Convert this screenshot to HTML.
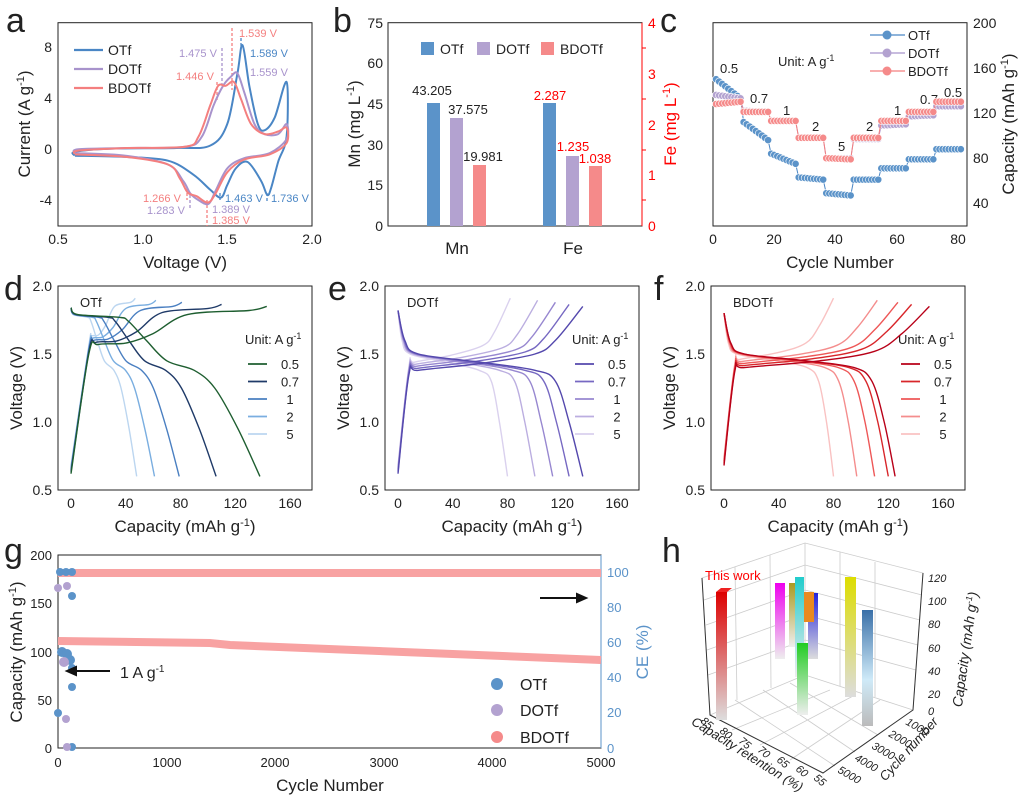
<!DOCTYPE html>
<html><head><meta charset="utf-8"><style>
body{margin:0;background:#fff}
svg{display:block;font-family:"Liberation Sans",Arial,sans-serif}
</style></head><body>
<svg id="s" width="1024" height="797" viewBox="0 0 1024 797" xmlns="http://www.w3.org/2000/svg">
<defs>
<linearGradient id="gr" x1="0" y1="0" x2="0" y2="1"><stop offset="0" stop-color="#d00"/><stop offset="1" stop-color="#ddd"/></linearGradient>
<linearGradient id="gm" x1="0" y1="0" x2="0" y2="1"><stop offset="0" stop-color="#e0e"/><stop offset="1" stop-color="#eee"/></linearGradient>
<linearGradient id="go" x1="0" y1="0" x2="0" y2="1"><stop offset="0" stop-color="#aa9a20"/><stop offset="1" stop-color="#eee"/></linearGradient>
<linearGradient id="gc" x1="0" y1="0" x2="0" y2="1"><stop offset="0" stop-color="#2cc"/><stop offset="1" stop-color="#eee"/></linearGradient>
<linearGradient id="gb" x1="0" y1="0" x2="0" y2="1"><stop offset="0" stop-color="#22d"/><stop offset="1" stop-color="#ddd"/></linearGradient>
<linearGradient id="gg" x1="0" y1="0" x2="0" y2="1"><stop offset="0" stop-color="#2c2"/><stop offset="1" stop-color="#eee"/></linearGradient>
<linearGradient id="gy" x1="0" y1="0" x2="0" y2="1"><stop offset="0" stop-color="#dd0"/><stop offset="1" stop-color="#ddd"/></linearGradient>
<linearGradient id="gs" x1="0" y1="0" x2="0" y2="1"><stop offset="0" stop-color="#3a70a8"/><stop offset="0.6" stop-color="#cfeaf8"/><stop offset="1" stop-color="#bbb"/></linearGradient>
</defs>
<g font-size="14" fill="#222">
<text x="6" y="32" font-size="34">a</text>
<text x="333" y="32" font-size="34">b</text>
<text x="660" y="32" font-size="34">c</text>
<text x="4" y="300" font-size="34">d</text>
<text x="328" y="300" font-size="34">e</text>
<text x="654" y="300" font-size="34">f</text>
<text x="4" y="562" font-size="34">g</text>
<text x="662" y="562" font-size="34">h</text>

<!-- a -->
<rect x="58" y="22.7" width="254" height="203.3" fill="none" stroke="#222"/>
<g text-anchor="end"><text x="52" y="52">8</text><text x="52" y="103">4</text><text x="52" y="154">0</text><text x="52" y="205">-4</text></g>
<g text-anchor="middle"><text x="58" y="244">0.5</text><text x="143" y="244">1.0</text><text x="227" y="244">1.5</text><text x="312" y="244">2.0</text>
<text x="185" y="268" font-size="17">Voltage (V)</text>
<text transform="translate(30,124) rotate(-90)" font-size="17">Current (A g<tspan font-size="11" dy="-6">-1</tspan><tspan dy="6">)</tspan></text></g>
<g stroke-width="2.2"><line x1="74" y1="50" x2="103" y2="50" stroke="#4a86c5"/><line x1="74" y1="69" x2="103" y2="69" stroke="#a893cc"/><line x1="74" y1="88" x2="103" y2="88" stroke="#f47f7f"/></g>
<text x="108" y="55">OTf</text><text x="108" y="74">DOTf</text><text x="108" y="93">BDOTf</text>
<g font-size="11"><text x="239" y="37" fill="#f47f7f">1.539 V</text><text x="179" y="57" fill="#a893cc">1.475 V</text><text x="250" y="57" fill="#4a86c5">1.589 V</text>
<text x="176" y="80" fill="#f47f7f">1.446 V</text><text x="250" y="76" fill="#a893cc">1.559 V</text>
<text x="143" y="202" fill="#f47f7f">1.266 V</text><text x="225" y="202" fill="#4a86c5">1.463 V</text><text x="271" y="202" fill="#4a86c5">1.736 V</text>
<text x="147" y="214" fill="#a893cc">1.283 V</text><text x="212" y="213" fill="#a893cc">1.389 V</text><text x="212" y="224" fill="#f47f7f">1.385 V</text></g>
<g stroke-dasharray="3,2" stroke-width="1.3" fill="none">
<line x1="232" y1="28" x2="232" y2="90" stroke="#f47f7f"/><line x1="222" y1="48" x2="222" y2="85" stroke="#a893cc"/><line x1="241" y1="38" x2="241" y2="48" stroke="#4a86c5"/><line x1="217" y1="82" x2="217" y2="100" stroke="#f47f7f"/>
<line x1="187" y1="188" x2="187" y2="200" stroke="#f47f7f"/><line x1="190" y1="195" x2="190" y2="210" stroke="#a893cc"/><line x1="207" y1="200" x2="207" y2="226" stroke="#f47f7f"/><line x1="220" y1="193" x2="220" y2="200" stroke="#4a86c5"/><line x1="267" y1="193" x2="267" y2="202" stroke="#4a86c5"/></g>
<g id="ga"></g>

<!-- b -->
<rect x="388" y="22.7" width="254" height="203.3" fill="none" stroke="#222"/>
<line x1="642" y1="22.7" x2="642" y2="226" stroke="#f00"/>
<g text-anchor="end"><text x="383" y="28">75</text><text x="383" y="68">60</text><text x="383" y="109">45</text><text x="383" y="150">30</text><text x="383" y="190">15</text><text x="383" y="231">0</text></g>
<g fill="#f00"><text x="648" y="28">4</text><text x="648" y="79">3</text><text x="648" y="130">2</text><text x="648" y="180">1</text><text x="648" y="231">0</text>
<text transform="translate(676,124) rotate(-90)" font-size="17" text-anchor="middle">Fe (mg L<tspan font-size="11" dy="-6">-1</tspan><tspan dy="6">)</tspan></text></g>
<g stroke="#f00"><line x1="642" y1="48" x2="646" y2="48"/><line x1="642" y1="99" x2="646" y2="99"/><line x1="642" y1="150" x2="646" y2="150"/><line x1="642" y1="200" x2="646" y2="200"/></g>
<text transform="translate(360,124) rotate(-90)" font-size="17" text-anchor="middle">Mn (mg L<tspan font-size="11" dy="-6">-1</tspan><tspan dy="6">)</tspan></text>
<g text-anchor="middle" font-size="17"><text x="457" y="254">Mn</text><text x="573" y="254">Fe</text></g>
<rect x="427" y="103" width="13" height="123" fill="#5b93c9"/><rect x="450" y="118" width="13" height="108" fill="#b3a2d0"/><rect x="473" y="165" width="13" height="61" fill="#f58a8a"/>
<rect x="543" y="103" width="13" height="123" fill="#5b93c9"/><rect x="566" y="156" width="13" height="70" fill="#b3a2d0"/><rect x="589" y="166" width="13" height="60" fill="#f58a8a"/>
<g text-anchor="middle" font-size="13"><text x="432" y="95">43.205</text><text x="468" y="114">37.575</text><text x="483" y="161">19.981</text>
<g fill="#f00"><text x="550" y="100">2.287</text><text x="573" y="151">1.235</text><text x="595" y="163">1.038</text></g></g>
<rect x="421" y="42" width="13" height="13" fill="#5b93c9"/><rect x="477" y="42" width="13" height="13" fill="#b3a2d0"/><rect x="541" y="42" width="13" height="13" fill="#f58a8a"/>
<text x="440" y="54">OTf</text><text x="496" y="54">DOTf</text><text x="560" y="54">BDOTf</text>

<!-- c -->
<rect x="713" y="22.7" width="254" height="203.3" fill="none" stroke="#222"/>
<g><text x="973" y="28">200</text><text x="973" y="73">160</text><text x="973" y="118">120</text><text x="973" y="163">80</text><text x="973" y="208">40</text></g>
<g text-anchor="middle"><text x="713" y="244">0</text><text x="774" y="244">20</text><text x="835" y="244">40</text><text x="897" y="244">60</text><text x="958" y="244">80</text>
<text x="840" y="268" font-size="17">Cycle Number</text>
<text transform="translate(1014,124) rotate(-90)" font-size="17">Capacity (mAh g<tspan font-size="11" dy="-6">-1</tspan><tspan dy="6">)</tspan></text></g>
<text x="778" y="66" font-size="13">Unit: A g<tspan font-size="9" dy="-5">-1</tspan></text>
<g font-size="13"><text x="720" y="73">0.5</text><text x="750" y="103">0.7</text><text x="783" y="115">1</text><text x="812" y="131">2</text><text x="838" y="151">5</text><text x="866" y="131">2</text><text x="894" y="115">1</text><text x="920" y="104">0.7</text><text x="944" y="97">0.5</text></g>
<g id="gc3"></g>
<g stroke-width="1.2"><line x1="870" y1="35" x2="905" y2="35" stroke="#4a86c5"/><line x1="870" y1="53" x2="905" y2="53" stroke="#a893cc"/><line x1="870" y1="71" x2="905" y2="71" stroke="#f47f7f"/></g>
<circle cx="887" cy="35" r="4.5" fill="#5b93c9"/><circle cx="887" cy="53" r="4.5" fill="#b3a2d0"/><circle cx="887" cy="71" r="4.5" fill="#f58a8a"/>
<g font-size="13"><text x="908" y="40">OTf</text><text x="908" y="58">DOTf</text><text x="908" y="76">BDOTf</text></g>

<g id="gdef"></g>

<!-- g -->
<rect x="58" y="555" width="543" height="193" fill="none" stroke="#222"/>
<line x1="601" y1="555" x2="601" y2="748" stroke="#5b93c9"/>
<g text-anchor="end" font-size="13"><text x="52" y="560">200</text><text x="52" y="608">150</text><text x="52" y="657">100</text><text x="52" y="705">50</text><text x="52" y="753">0</text></g>
<g fill="#5b93c9" font-size="13"><text x="607" y="577">100</text><text x="607" y="612">80</text><text x="607" y="647">60</text><text x="607" y="682">40</text><text x="607" y="717">20</text><text x="607" y="753">0</text>
<text transform="translate(648,652) rotate(-90)" font-size="17" text-anchor="middle">CE (%)</text></g>
<g text-anchor="middle" font-size="13"><text x="58" y="767">0</text><text x="167" y="767">1000</text><text x="275" y="767">2000</text><text x="384" y="767">3000</text><text x="492" y="767">4000</text><text x="601" y="767">5000</text>
<text x="330" y="791" font-size="17">Cycle Number</text>
<text transform="translate(22,652) rotate(-90)" font-size="17">Capacity (mAh g<tspan font-size="11" dy="-6">-1</tspan><tspan dy="6">)</tspan></text></g>
<path d="M58,573 L601,573" stroke="#f8a2a2" stroke-width="8"/>
<path d="M58,641 L210,643 L230,645 L601,660" stroke="#f8a2a2" stroke-width="8" fill="none"/>
<g fill="#5b93c9"><circle cx="60" cy="572" r="4"/><circle cx="66" cy="572" r="4"/><circle cx="72" cy="572" r="4"/><circle cx="72" cy="596" r="4"/><circle cx="62" cy="652" r="5"/><circle cx="67" cy="654" r="5"/><circle cx="70" cy="660" r="5"/><circle cx="72" cy="668" r="4"/><circle cx="72" cy="687" r="4"/><circle cx="58" cy="713" r="4"/><circle cx="72" cy="747" r="4"/></g>
<g fill="#b3a2d0"><circle cx="58" cy="588" r="4"/><circle cx="67" cy="586" r="4"/><circle cx="64" cy="662" r="5"/><circle cx="66" cy="719" r="4"/><circle cx="67" cy="747" r="4"/></g>
<path d="M110,671 L67,671 M67,671 l9,-4 l0,8 z" stroke="#111" stroke-width="2" fill="#111"/>
<text x="120" y="678" font-size="16">1 A g<tspan font-size="10" dy="-6">-1</tspan></text>
<path d="M540,598 L586,598 M586,598 l-9,-4 l0,8 z" stroke="#111" stroke-width="2" fill="#111"/>
<circle cx="497" cy="684" r="6" fill="#5b93c9"/><circle cx="497" cy="710" r="6" fill="#b3a2d0"/><circle cx="497" cy="737" r="6" fill="#f58a8a"/>
<g font-size="16"><text x="520" y="690">OTf</text><text x="520" y="716">DOTf</text><text x="520" y="743">BDOTf</text></g>

<!-- h -->
<g stroke="#ccc" stroke-width="0.8" fill="none">
<path d="M702,578 L805,543 L923,573 L913,710 L823,773 L710,715 Z"/>
<path d="M805,543 L805,675 L710,715 M805,675 L913,710"/>
<path d="M735,567 L737,700 M770,555 L771,688 M840,552 L840,686 M875,562 L875,697"/>
<path d="M704,600 L805,565 L922,595 M706,625 L805,590 L920,620 M707,650 L805,615 L918,645 M708,675 L805,640 L916,670"/>
<path d="M732,730 L830,690 M760,745 L855,695 M790,760 L880,700 M835,766 L735,700 M855,752 L763,690 M878,735 L790,683"/>
</g>
<path d="M702,578 L710,715 L823,773 L913,710 L923,573" stroke="#333" fill="none"/>
<rect x="716" y="592" width="11" height="128" fill="url(#gr)"/><path d="M716,592 l5,-4 l11,0 l-5,4z" fill="#e22"/>
<rect x="775" y="583" width="10" height="76" fill="url(#gm)"/><rect x="789" y="583" width="10" height="64" fill="url(#go)"/>
<rect x="795" y="577" width="9" height="100" fill="url(#gc)"/>
<rect x="808" y="593" width="10" height="66" fill="url(#gb)"/><rect x="804" y="592" width="10" height="30" fill="#e98a20"/>
<rect x="797" y="643" width="11" height="72" fill="url(#gg)"/>
<rect x="845" y="577" width="11" height="120" fill="url(#gy)"/>
<rect x="862" y="610" width="11" height="116" fill="url(#gs)"/>
<text x="705" y="580" font-size="13" fill="#f00">This work</text>
<g font-size="11" font-style="italic"><text x="928" y="582">120</text><text x="928" y="605">100</text><text x="928" y="628">80</text><text x="928" y="652">60</text><text x="928" y="675">40</text><text x="928" y="698">20</text><text x="928" y="715">0</text>
<text transform="translate(970,650) rotate(-82)" font-size="14" text-anchor="middle">Capacity (mAh g<tspan font-size="9" dy="-5">-1</tspan><tspan dy="5">)</tspan></text>
<text transform="translate(745,758) rotate(32)" font-size="13" text-anchor="middle">Capacity retention (%)</text>
<text transform="translate(912,752) rotate(-48)" font-size="13" text-anchor="middle">Cycle number</text>
<text transform="translate(700,722) rotate(40)">85</text><text transform="translate(719,732) rotate(40)">80</text><text transform="translate(738,742) rotate(40)">75</text><text transform="translate(757,751) rotate(40)">70</text><text transform="translate(776,761) rotate(40)">65</text><text transform="translate(795,770) rotate(40)">60</text><text transform="translate(813,779) rotate(40)">55</text>
<text transform="translate(905,724) rotate(30)">1000</text><text transform="translate(888,736) rotate(30)">2000</text><text transform="translate(871,748) rotate(30)">3000</text><text transform="translate(854,760) rotate(30)">4000</text><text transform="translate(837,772) rotate(30)">5000</text></g>
</g>
</svg>
<script>
const NS="http://www.w3.org/2000/svg";
function cr(p){let d="M"+p[0][0].toFixed(1)+","+p[0][1].toFixed(1);for(let i=0;i<p.length-1;i++){const a=p[i-1]||p[i],b=p[i],c=p[i+1],e=p[i+2]||c;d+=" C"+(b[0]+(c[0]-a[0])/6).toFixed(1)+","+(b[1]+(c[1]-a[1])/6).toFixed(1)+" "+(c[0]-(e[0]-b[0])/6).toFixed(1)+","+(c[1]-(e[1]-b[1])/6).toFixed(1)+" "+c[0].toFixed(1)+","+c[1].toFixed(1);}return d;}
function path(g,d,col,w){const p=document.createElementNS(NS,"path");p.setAttribute("d",d);p.setAttribute("stroke",col);p.setAttribute("stroke-width",w||1.6);p.setAttribute("fill","none");g.appendChild(p);}
function el(g,t,a,txt){const e=document.createElementNS(NS,t);for(const k in a)e.setAttribute(k,a[k]);if(txt)e.textContent=txt;g.appendChild(e);return e;}
const ga=document.getElementById("ga");
const ax=v=>58+(v-0.5)*169.3, ay=i=>149.3-12.7*i;
function cv(pts,col){path(ga,cr(pts.map(q=>[ax(q[0]),ay(q[1])])),col,2);}
cv([[0.6,-0.5],[0.6,-0.2],[0.8,0.05],[1.2,0.1],[1.4,0.3],[1.5,2],[1.56,6],[1.59,8.2],[1.63,5],[1.68,2],[1.72,1.5],[1.78,2.5],[1.85,5.3],[1.85,1],[1.8,-1],[1.76,-3],[1.736,-3.6],[1.7,-2.5],[1.62,-1],[1.55,-1.5],[1.5,-2.8],[1.463,-3.8],[1.4,-3.2],[1.3,-2],[1.15,-0.9],[0.9,-0.6],[0.6,-0.5]],"#4a86c5");
cv([[0.6,-0.3],[0.62,0],[0.9,0.1],[1.25,0.2],[1.35,1],[1.42,3.5],[1.475,5],[1.52,5.7],[1.559,6],[1.6,4.5],[1.66,2],[1.72,1.2],[1.8,1.2],[1.85,2],[1.85,0.8],[1.75,-0.3],[1.6,-0.7],[1.5,-1.5],[1.43,-3.3],[1.389,-4.3],[1.33,-4],[1.283,-3.5],[1.24,-2.5],[1.15,-1.2],[0.9,-0.5],[0.6,-0.3]],"#a893cc");
cv([[0.6,-0.4],[0.62,-0.1],[0.9,0.1],[1.25,0.2],[1.33,1],[1.4,3.5],[1.446,5],[1.49,5],[1.539,5.3],[1.58,4],[1.64,2],[1.72,1.2],[1.8,1.4],[1.85,1.7],[1.85,0.5],[1.75,-0.4],[1.6,-0.8],[1.5,-1.8],[1.43,-3.5],[1.385,-4.2],[1.32,-3.7],[1.266,-3.4],[1.22,-2.3],[1.15,-1.2],[0.9,-0.6],[0.6,-0.4]],"#f47f7f");
const gc=document.getElementById("gc3");
const cx=n=>713+n*3.06, cy=v=>22.7+(200-v)*1.129;
function seq(levels){const r=[];levels.forEach(l=>{for(let i=0;i<9;i++){r.push(l[0]+(l[1]-l[0])*i/8);}});return r;}
const ser=[["#4a86c5","#5b93c9",seq([[150,133],[112,96],[84,75],[63,61],[49,47],[61,61],[71,71],[79,79],[88,88]])],
["#a893cc","#b3a2d0",seq([[136,133],[122,121],[113,113],[98,98],[80,80],[97,97],[109,110],[117,118],[126,126]])],
["#f47f7f","#f58a8a",seq([[128,130],[121,121],[113,113],[98,98],[80,79],[98,98],[113,113],[121,121],[130,130]])]];
ser.forEach(s=>{path(gc,"M"+s[2].map((v,i)=>cx(i+1).toFixed(1)+","+cy(v).toFixed(1)).join(" L"),s[0],1);s[2].forEach((v,i)=>el(gc,"circle",{cx:cx(i+1),cy:cy(v),r:3.6,fill:s[1],stroke:"#fff","stroke-width":0.6}));});
const gd=document.getElementById("gdef");
const panels=[{x0:58,name:"OTf",cols:["#1e5e30","#1f3a68","#4a7fc1","#7aaee0","#bcd6f0"],dis:[138,106,79,61,48],ch:[143,110,81,62,47],
 D:[[0,1.84],[5,1.79],[35,1.77],[42,1.74],[55,1.6],[70,1.45],[90,1.38],[105,1.25],[122,0.95],[138,0.6]],C:[[0,0.62],[13,1.5],[20,1.57],[40,1.58],[60,1.65],[85,1.79],[130,1.82],[143,1.85]]},
{x0:385,name:"DOTf",cols:["#5448ad","#7668c2","#9787d0","#bbaee0","#dad1ee"],dis:[135,125,113,100,80],ch:[135,125,115,102,82],
 D:[[0,1.82],[5,1.6],[15,1.5],[60,1.44],[100,1.38],[115,1.3],[125,1.0],[135,0.6]],C:[[0,0.62],[8,1.35],[15,1.38],[60,1.43],[100,1.5],[115,1.6],[135,1.85]]},
{x0:711,name:"BDOTf",cols:["#b80018","#d8262a","#ee5757","#f48d8d","#f9c2c2"],dis:[125,120,110,97,80],ch:[150,137,127,112,80],
 D:[[0,1.8],[5,1.58],[15,1.5],[60,1.45],[95,1.4],[108,1.3],[117,1.0],[125,0.6]],C:[[0,0.68],[8,1.38],[15,1.4],[70,1.45],[110,1.52],[130,1.65],[150,1.85]]}];
panels.forEach(p=>{const x0=p.x0,X=c=>x0+13+c*1.369,Y=v=>286+(2-v)*136;
 el(gd,"rect",{x:x0,y:286,width:254,height:204,fill:"none",stroke:"#222"});
 ["2.0","1.5","1.0","0.5"].forEach((t,i)=>el(gd,"text",{x:x0-6,y:291+i*68,"text-anchor":"end"},t));
 [0,40,80,120,160].forEach(c=>el(gd,"text",{x:X(c),y:508,"text-anchor":"middle"},String(c)));
 el(gd,"text",{x:x0+22,y:307,"font-size":13},p.name);
 const t=el(gd,"text",{x:x0+127,y:532,"font-size":17,"text-anchor":"middle"});t.innerHTML="Capacity (mAh g<tspan font-size='11' dy='-6'>-1</tspan><tspan dy='6'>)</tspan>";
 el(gd,"text",{transform:"translate("+(x0-36)+",388) rotate(-90)","font-size":17,"text-anchor":"middle"},"Voltage (V)");
 const u=el(gd,"text",{x:x0+187,y:344,"font-size":13});u.innerHTML="Unit: A g<tspan font-size='9' dy='-5'>-1</tspan>";
 ["0.5","0.7","1","2","5"].forEach((r,i)=>{el(gd,"line",{x1:x0+190,x2:x0+209,y1:364+i*17.5,y2:364+i*17.5,stroke:p.cols[i],"stroke-width":1.8});el(gd,"text",{x:x0+232,y:369+i*17.5,"font-size":13,"text-anchor":"middle"},r);});
 for(let i=4;i>=0;i--){const Dm=p.D[p.D.length-1][0],Cm=p.C[p.C.length-1][0];
  const d=p.D.map(q=>[X(q[0]*p.dis[i]/Dm),Y(q[1])]);
  const k=p.C[1][0];const c=p.C.map(q=>[X(q[0]<=k?q[0]:k+(q[0]-k)*(p.ch[i]-k)/(Cm-k)),Y(q[1]+(i*0.015))]);
  path(gd,cr(d),p.cols[i],1.4);path(gd,cr(c),p.cols[i],1.4);}
});
</script>
</body></html>
